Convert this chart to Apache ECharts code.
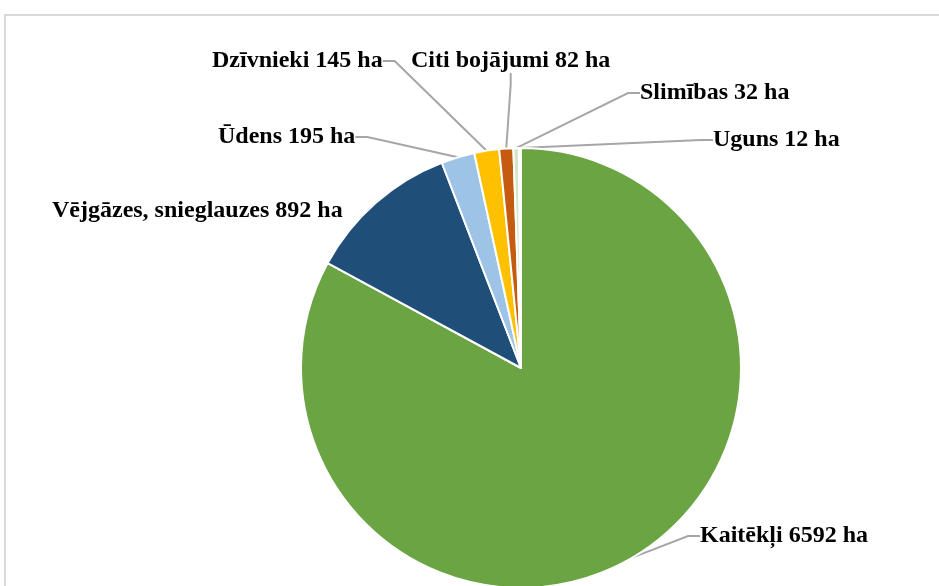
<!DOCTYPE html>
<html>
<head>
<meta charset="utf-8">
<script src="https://cdn.jsdelivr.net/npm/echarts@6/dist/echarts.min.js"></script>
<style>
html,body{margin:0;padding:0;background:#fff;}
#c{width:939px;height:586px;}
</style>
</head>
<body>
<div id="c"></div>
<script>
const categories = ['Kaitēkļi', 'Vējgāzes, snieglauzes', 'Ūdens', 'Dzīvnieki', 'Citi bojājumi', 'Slimības', 'Uguns'];
const values = [6592, 892, 195, 145, 82, 32, 12];
const unit = 'ha';

const colors = ['#6AA443', '#1F4E78', '#9DC3E6', '#FFC000', '#C55A11', '#D5E6C8', '#A9D18E'];
// label anchor (left x, middle y) per slice
const labelPos = [
  [700, 536], [52, 211], [218, 137], [212, 61], [411, 61], [640, 93], [713, 140]
];

const chart = echarts.init(document.getElementById('c'));
chart.setOption({
  backgroundColor: '#ffffff',
  animation: false,
  graphic: [{
    type: 'rect',
    shape: { x: 5, y: 15, width: 1200, height: 1200 },
    style: { fill: 'none', stroke: '#d9d9d9', lineWidth: 2 },
    silent: true
  }],
  series: [{
    type: 'pie',
    center: [521, 368],
    radius: 220,
    startAngle: 90,
    clockwise: true,
    avoidLabelOverlap: false,
    itemStyle: { borderColor: '#ffffff', borderWidth: 2 },
    label: {
      show: true,
      formatter: p => p.name + ' ' + p.value + ' ' + unit,
      fontFamily: 'Liberation Serif',
      fontWeight: 'bold',
      fontSize: 24,
      color: '#000'
    },
    labelLine: {
      show: true,
      length: 10,
      length2: 12,
      lineStyle: { color: '#a6a6a6', width: 2 }
    },
    labelLayout: function (params) {
      const p = labelPos[params.dataIndex];
      return { x: p[0], y: p[1], align: 'left', verticalAlign: 'middle' };
    },
    data: categories.map((c, i) => ({
      name: c,
      value: values[i],
      itemStyle: { color: colors[i] },
      labelLine: { show: i !== 1 }
    }))
  }]
});
</script>
</body>
</html>
